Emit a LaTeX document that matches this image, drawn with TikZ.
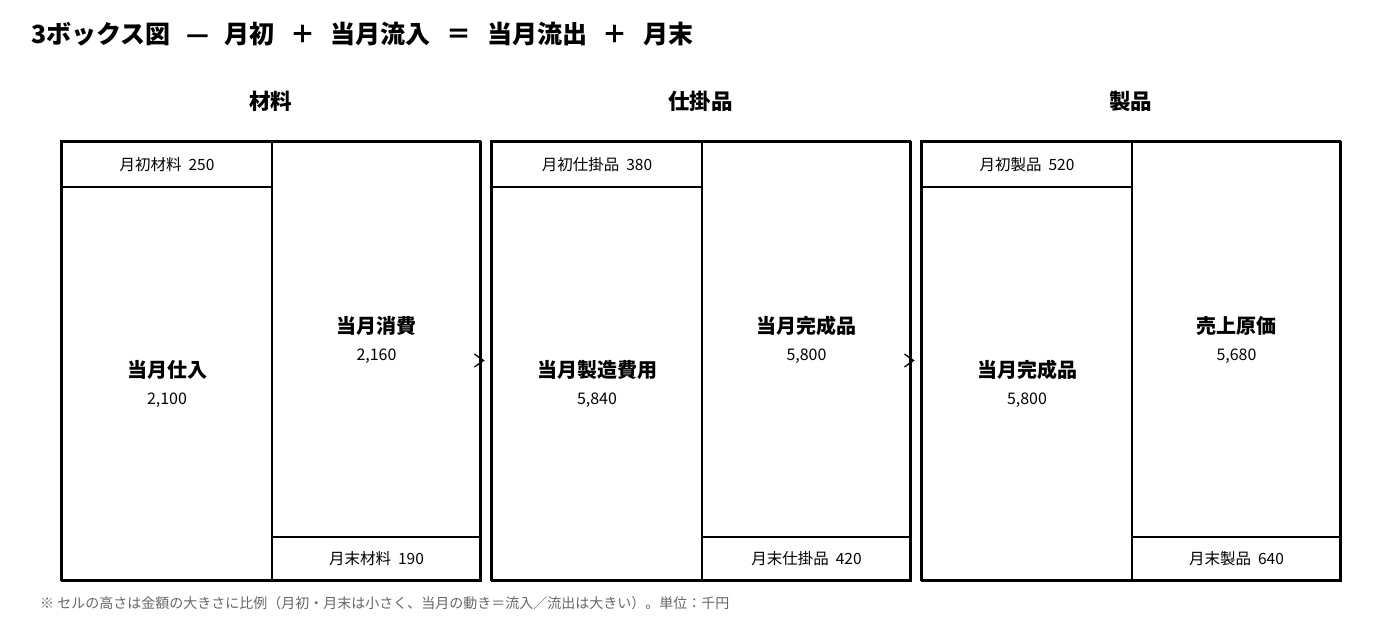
\documentclass[tikz,border=0pt]{standalone}
\usepackage{fontspec}
\setmainfont{Noto Sans CJK JP}
\usetikzlibrary{arrows.meta}

\begin{document}
\begin{tikzpicture}[x=1pt,y=-1pt,
	cell/.style={draw, line width=2pt, anchor=north west, inner sep=0pt, align=center, font=\fontsize{15.5}{20}\selectfont},
	bigcell/.style={cell, font=\fontsize{20}{27}\selectfont},
	frame/.style={draw, line width=2.8pt, minimum width=419pt, minimum height=439pt, inner sep=0pt},
	heading/.style={font=\fontsize{21.5}{24}\selectfont\bfseries},
	flow/.style={-{Straight Barb[length=9pt,width=13pt,line width=1.3pt]}, line width=1.3pt, shorten >=5pt}]
		\useasboundingbox (0,0) rectangle (1400,620);
		\node[anchor=west, inner sep=0pt, font=\fontsize{25}{28}\selectfont\bfseries] (title) at (31,34) {3ボックス図\hspace{15.6pt}—\hspace{15.6pt}月初\hspace{15.6pt}＋\hspace{15.6pt}当月流入\hspace{15.6pt}＝\hspace{15.6pt}当月流出\hspace{15.6pt}＋\hspace{15.6pt}月末};
		% 材料
		\node[heading] (h1) at (270.5,101) {材料};
		\node[cell, minimum width=210pt, minimum height=45pt] (b1) at (61,141) {月初材料\ \ 250};
		\node[bigcell, minimum width=210pt, minimum height=394pt] (p1) at (61,186) {\bfseries 当月仕入\\{\fontsize{16}{27}\selectfont 2,100}};
		\node[bigcell, minimum width=209pt, minimum height=395pt] (u1) at (271,141) {\bfseries 当月消費\\{\fontsize{16}{27}\selectfont 2,160}};
		\node[cell, minimum width=209pt, minimum height=44pt] (e1) at (271,536) {月末材料\ \ 190};
		\node[frame] (m1) at (270.5,360.5) {};
		% 仕掛品
		\node[heading] (h2) at (700.5,101) {仕掛品};
		\node[cell, minimum width=210pt, minimum height=45pt] (b2) at (491,141) {月初仕掛品\ \ 380};
		\node[bigcell, minimum width=210pt, minimum height=394pt] (p2) at (491,186) {\bfseries 当月製造費用\\{\fontsize{16}{27}\selectfont 5,840}};
		\node[bigcell, minimum width=209pt, minimum height=395pt] (u2) at (701,141) {\bfseries 当月完成品\\{\fontsize{16}{27}\selectfont 5,800}};
		\node[cell, minimum width=209pt, minimum height=44pt] (e2) at (701,536) {月末仕掛品\ \ 420};
		\node[frame] (m2) at (700.5,360.5) {};
		% 製品
		\node[heading] (h3) at (1130.5,101) {製品};
		\node[cell, minimum width=210pt, minimum height=45pt] (b3) at (921,141) {月初製品\ \ 520};
		\node[bigcell, minimum width=210pt, minimum height=394pt] (p3) at (921,186) {\bfseries 当月完成品\\{\fontsize{16}{27}\selectfont 5,800}};
		\node[bigcell, minimum width=209pt, minimum height=395pt] (u3) at (1131,141) {\bfseries 売上原価\\{\fontsize{16}{27}\selectfont 5,680}};
		\node[cell, minimum width=209pt, minimum height=44pt] (e3) at (1131,536) {月末製品\ \ 640};
		\node[frame] (m3) at (1130.5,360.5) {};
		\draw[flow] (m1.east) -- (m2.west);
		\draw[flow] (m2.east) -- (m3.west);
		\node[anchor=west, inner sep=0pt, text=black!60, font=\fontsize{14}{16}\selectfont] (note) at (40,603) {※\ セルの高さは金額の大きさに比例（月初・月末は小さく、当月の動き＝流入／流出は大きい）。単位：千円};
	\end{tikzpicture}
\end{document}
